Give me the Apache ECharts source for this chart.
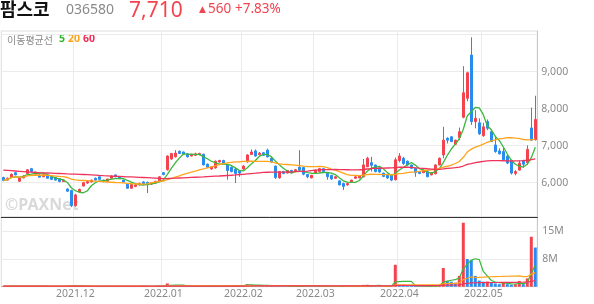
<!DOCTYPE html>
<html><head><meta charset="utf-8">
<script src="https://cdn.jsdelivr.net/npm/echarts@6/dist/echarts.min.js"></script>
<style>html,body{margin:0;padding:0;background:#fff;}#c{width:594px;height:304px;}</style>
</head><body><div id="c"></div>
<script>
const dates = [
'2021.11.05','2021.11.08','2021.11.09','2021.11.10','2021.11.11','2021.11.12','2021.11.15','2021.11.16','2021.11.17','2021.11.18','2021.11.19','2021.11.22','2021.11.23','2021.11.24','2021.11.25','2021.11.26','2021.11.29','2021.11.30',
'2021.12.01','2021.12.02','2021.12.03','2021.12.06','2021.12.07','2021.12.08','2021.12.09','2021.12.10','2021.12.13','2021.12.14','2021.12.15','2021.12.16','2021.12.17','2021.12.20','2021.12.21','2021.12.22','2021.12.23','2021.12.24','2021.12.27','2021.12.28','2021.12.29','2021.12.30',
'2022.01.03','2022.01.04','2022.01.05','2022.01.06','2022.01.07','2022.01.10','2022.01.11','2022.01.12','2022.01.13','2022.01.14','2022.01.17','2022.01.18','2022.01.19','2022.01.20','2022.01.21','2022.01.24','2022.01.25','2022.01.26','2022.01.27','2022.01.28',
'2022.02.03','2022.02.04','2022.02.07','2022.02.08','2022.02.09','2022.02.10','2022.02.11','2022.02.14','2022.02.15','2022.02.16','2022.02.17','2022.02.18','2022.02.21','2022.02.22','2022.02.23','2022.02.24','2022.02.25','2022.02.28',
'2022.03.02','2022.03.03','2022.03.04','2022.03.07','2022.03.08','2022.03.10','2022.03.11','2022.03.14','2022.03.15','2022.03.16','2022.03.17','2022.03.18','2022.03.21','2022.03.22','2022.03.23','2022.03.24','2022.03.25','2022.03.28','2022.03.29','2022.03.30','2022.03.31',
'2022.04.01','2022.04.04','2022.04.05','2022.04.06','2022.04.07','2022.04.08','2022.04.11','2022.04.12','2022.04.13','2022.04.14','2022.04.15','2022.04.18','2022.04.19','2022.04.20','2022.04.21','2022.04.22','2022.04.25','2022.04.26','2022.04.27','2022.04.28','2022.04.29',
'2022.05.02','2022.05.03','2022.05.04','2022.05.06','2022.05.09','2022.05.10','2022.05.11','2022.05.12','2022.05.13','2022.05.16','2022.05.17','2022.05.18','2022.05.19','2022.05.20'];

const opens = [
6140,6070,6150,6270,6040,6130,6250,6380,6230,6210,
6160,6210,6160,6140,6110,6030,5830,5790,5380,5750,
5910,5990,6020,6120,6160,6070,6040,6120,6210,6160,
6070,5960,5850,5900,5940,6020,6010,5960,5990,6030,
6270,6350,6640,6700,6850,6830,6780,6720,6740,6760,
6770,6500,6370,6400,6560,6600,6480,6420,6370,6320,
6370,6560,6760,6860,6760,6810,6880,6660,6450,6130,
6300,6260,6330,6310,6420,6410,6220,6130,6250,6300,
6380,6250,6200,6120,6050,5980,5940,6010,6120,6130,
6160,6430,6540,6480,6400,6260,6220,6200,6080,6600,
6660,6580,6480,6390,6300,6270,6300,6210,6240,6480,
6750,7200,7240,7040,7220,7770,8280,9450,7650,7620,
7270,7650,7380,7020,6860,6840,6720,6600,6250,6340,
6600,6540,7480,7160];
const closes = [
6060,6120,6230,6210,6130,6180,6350,6300,6290,6150,
6220,6120,6090,6070,6030,6070,5770,5380,5670,5820,
6000,6030,6070,6070,6090,6030,6100,6180,6160,6110,
6020,5850,5950,5940,5980,5970,5940,6000,6040,6160,
6220,6720,6790,6800,6790,6780,6700,6770,6780,6790,
6480,6420,6430,6580,6600,6520,6330,6300,6250,6260,
6450,6750,6830,6720,6800,6740,6700,6560,6140,6300,
6250,6330,6280,6350,6340,6230,6160,6200,6340,6380,
6300,6160,6100,6160,5940,5900,5980,6070,6160,6190,
6480,6660,6470,6300,6290,6170,6130,6070,6620,6720,
6520,6480,6390,6270,6250,6340,6160,6270,6480,6660,
7150,7150,7110,7150,7380,8430,8970,7650,7740,7320,
7510,7470,7110,6840,6780,6620,6530,6260,6300,6530,
6500,6900,7150,7710];
const highs = [
6160,6140,6250,6290,6150,6200,6370,6400,6300,6230,
6240,6220,6170,6150,6120,6090,5850,5810,5700,5840,
6010,6040,6080,6140,6170,6080,6110,6200,6220,6170,
6080,5970,5970,5960,6000,6040,6030,6020,6050,6170,
6290,6740,6800,6880,6870,6840,6790,6780,6810,6810,
6780,6520,6450,6600,6620,6620,6500,6440,6390,6330,
6470,6770,6900,6900,6830,6830,6920,6700,6460,6320,
6320,6340,6350,6370,6880,6430,6230,6210,6350,6400,
6400,6270,6210,6180,6060,6000,6000,6080,6170,6200,
6640,6700,6700,6490,6410,6270,6230,6210,6680,6800,
6700,6600,6490,6400,6310,6350,6320,6290,6500,6680,
7510,7230,7260,7160,7490,9150,9000,9930,7960,7740,
7620,7710,7390,7260,6930,6950,6740,6620,6340,6600,
6620,7010,8030,8350];
const lows = [
6040,6060,6140,6200,6020,6120,6240,6280,6220,6140,
6150,6110,6080,6060,6010,6020,5750,5340,5350,5730,
5900,5970,6010,6060,6080,6010,6030,6110,6150,6100,
6010,5840,5830,5880,5930,5960,5720,5940,5980,6020,
6200,6330,6620,6680,6780,6760,6680,6710,6720,6740,
6470,6400,6350,6380,6540,6500,6080,6280,5990,6160,
6350,6540,6750,6700,6740,6720,6680,6540,6100,6110,
6230,6250,6260,6300,6330,6200,6120,6120,6240,6290,
6280,6080,6080,6110,5930,5800,5920,6000,6100,6120,
6150,6420,6300,6280,6270,6150,6100,6040,6060,6550,
6480,6460,6370,6160,6230,6260,6150,6200,6230,6470,
6660,7060,7100,7020,7150,7740,8200,7560,7470,7290,
7240,7420,7100,6810,6760,6600,6500,6220,6200,6330,
6400,6480,7140,7140];
const volumes = [
150000,120000,180000,140000,160000,110000,220000,190000,130000,120000,
140000,110000,100000,120000,130000,100000,260000,300000,280000,140000,
160000,120000,110000,100000,90000,110000,130000,120000,100000,90000,
150000,160000,120000,100000,110000,180000,130000,120000,200000,240000,
240000,900000,420000,380000,220000,160000,150000,120000,110000,100000,
250000,160000,130000,200000,170000,120000,260000,180000,450000,380000,
350000,700000,550000,300000,200000,180000,480000,250000,350000,200000,
130000,120000,110000,100000,450000,220000,150000,120000,140000,130000,
110000,150000,120000,100000,160000,180000,120000,110000,130000,120000,
500000,550000,300000,200000,160000,130000,120000,130000,6100000,600000,
350000,250000,200000,180000,150000,160000,140000,150000,350000,420000,
5200000,1600000,1400000,1100000,3000000,17800000,7700000,7400000,3000000,1700000,
1400000,1450000,1100000,900000,700000,1100000,700000,550000,700000,1600000,
700000,2300000,13900000,10900000];
// 60-day price average for days before a full 60-day window exists
const ma60Lead = [
6340,6332,6324,6316,6308,6300,6292,6284,6276,6270,
6266,6262,6258,6254,6249,6244,6238,6234,6230,6226,
6221,6216,6211,6204,6197,6191,6186,6180,6175,6170,
6165,6160,6155,6150,6145,6140,6135,6130,6125,6118,
6112,6114,6118,6122,6127,6132,6137,6142,6147,6152,
6157,6163,6169,6175,6181,6188,6195,6202,6210];
const priceTicks = [6000, 7000, 8000, 9000];
const volTicks = [7.7e6, 15.4e6];

const RED = '#f2434e', BLUE = '#2a8bef';
const GREEN = '#3cb83c', ORANGE = '#ffa41c', CRIMSON = '#ef335b';

function movingAvg(src, n, lead) {
  return src.map((_, i) => {
    if (i < n - 1 && lead) return lead[i];
    const s = Math.max(0, i - n + 1);
    let t = 0; for (let k = s; k <= i; k++) t += src[k];
    return +(t / (i - s + 1)).toFixed(1);
  });
}
const ohlc = dates.map((_, i) => [opens[i], closes[i], lows[i], highs[i]]);
const volBars = volumes.map((v, i) => ({ value: v, itemStyle: { color: (i === 0 || v >= volumes[i - 1]) ? RED : BLUE } }));
const monthStart = (idx, val) => idx > 0 && String(val).slice(0, 7) !== dates[idx - 1].slice(0, 7);
const fmtK = v => String(v).replace(/\B(?=(\d{3})+(?!\d))/g, ',');

const lineS = (data, color, xi, w, z) => ({ type: 'line', xAxisIndex: xi, yAxisIndex: xi, data, showSymbol: false, symbol: 'none', silent: true, z, lineStyle: { color, width: w } });

const chart = echarts.init(document.getElementById('c'), null, { renderer: 'canvas' });
chart.setOption({
  animation: false,
  backgroundColor: '#fff',
  textStyle: { fontFamily: '"Noto Sans", "Noto Sans CJK KR", sans-serif' },
  grid: [
    { left: 1.3, width: 536, top: 31, height: 186, show: true, borderColor: '#dddddd', borderWidth: 1 },
    { left: 1.3, width: 536, top: 217, height: 69.7, show: true, borderColor: '#dddddd', borderWidth: 1 }
  ],
  xAxis: [
    { type: 'category', gridIndex: 0, data: dates, boundaryGap: true,
      axisLine: { show: true, lineStyle: { color: '#333' } }, axisTick: { show: false }, axisLabel: { show: false },
      splitLine: { show: true, interval: monthStart, lineStyle: { color: '#ebebeb' } } },
    { type: 'category', gridIndex: 1, data: dates, boundaryGap: true,
      axisLine: { show: true, lineStyle: { color: '#d0d0d0' } }, axisTick: { show: false },
      axisLabel: { interval: monthStart, formatter: v => v.slice(0, 7), color: '#8a8a8a', fontSize: 10.5, margin: 2 },
      splitLine: { show: true, interval: monthStart, lineStyle: { color: '#ebebeb' } } }
  ],
  yAxis: [
    { type: 'value', gridIndex: 0, position: 'right', min: 5073, max: 10100, splitNumber: 5, scale: true,
      axisLine: { show: true, lineStyle: { color: '#c8c8c8', width: 1 } }, axisTick: { show: false },
      axisLabel: { formatter: v => priceTicks.includes(v) ? fmtK(v) : '', color: '#8a8a8a', fontSize: 10.5, margin: 4, padding: [3, 0, 0, 0] },
      splitLine: { show: true, showMinLine: false, showMaxLine: false, lineStyle: { color: '#ebebeb' } } },
    { type: 'value', gridIndex: 1, position: 'right', min: 0, max: 19.4e6, interval: 7.7e6,
      axisLine: { show: true, lineStyle: { color: '#c8c8c8', width: 1 } }, axisTick: { show: false },
      axisLabel: { formatter: v => volTicks.includes(v) ? Math.round(v / 1e6) + 'M' : '', color: '#8a8a8a', fontSize: 10.5, margin: 5, padding: [2, 0, 0, 0] },
      splitLine: { show: true, showMinLine: false, showMaxLine: false, lineStyle: { color: '#ebebeb' } } }
  ],
  series: [
    { type: 'candlestick', xAxisIndex: 0, yAxisIndex: 0, data: ohlc, barWidth: 2, silent: true,
      itemStyle: { color: RED, color0: BLUE, borderColor: RED, borderColor0: BLUE, borderWidth: 1 } },
    lineS(movingAvg(closes, 5), GREEN, 0, 1.3, 5),
    lineS(movingAvg(closes, 20), ORANGE, 0, 1.3, 6),
    lineS(movingAvg(closes, 60, ma60Lead), CRIMSON, 0, 1.3, 7),
    { type: 'bar', xAxisIndex: 1, yAxisIndex: 1, data: volBars, barWidth: 3, silent: true },
    lineS(movingAvg(volumes, 5), GREEN, 1, 1.2, 5),
    lineS(movingAvg(volumes, 20), ORANGE, 1, 1.2, 6),
    lineS(movingAvg(volumes, 60), CRIMSON, 1, 1.2, 7)
  ],
  graphic: [
    { type: 'text', left: 0, top: 0, silent: true, style: { text: '팜스코', fill: '#111', font: 'bold 18px "Noto Sans CJK KR"' } },
    { type: 'text', left: 66, top: 3, silent: true, style: { text: '036580', fill: '#8a8a8a', font: '14px "Noto Sans"' } },
    { type: 'text', left: 129, top: 1, silent: true, style: { text: '7,710', fill: RED, font: '21px "Noto Sans"' } },
    { type: 'text', left: 199, top: 5, silent: true, style: { text: '▲', fill: RED, font: '9px "DejaVu Sans"' } },
    { type: 'text', left: 208, top: 2, silent: true, style: { text: '560', fill: RED, font: '13.5px "Noto Sans"' } },
    { type: 'text', left: 235, top: 2, silent: true, style: { text: '+7.83%', fill: RED, font: '13.5px "Noto Sans"' } },
    { type: 'text', left: 7, top: 35, silent: true, style: { text: '이동평균선', fill: '#8a8a8a', font: '10px "Noto Sans CJK KR"' } },
    { type: 'text', left: 59, top: 34, silent: true, style: { text: '5', fill: '#2db52d', font: 'bold 10.5px "Noto Sans"' } },
    { type: 'text', left: 68, top: 34, silent: true, style: { text: '20', fill: '#ffa31a', font: 'bold 10.5px "Noto Sans"' } },
    { type: 'text', left: 83, top: 34, silent: true, style: { text: '60', fill: '#ee2f5a', font: 'bold 10.5px "Noto Sans"' } },
    { type: 'text', left: 5, top: 197, silent: true, z: 0, style: { text: '©PAXNet', fill: 'rgba(170,170,170,0.45)', font: 'bold 16px "Noto Sans"' } }
  ]
});
</script></body></html>
